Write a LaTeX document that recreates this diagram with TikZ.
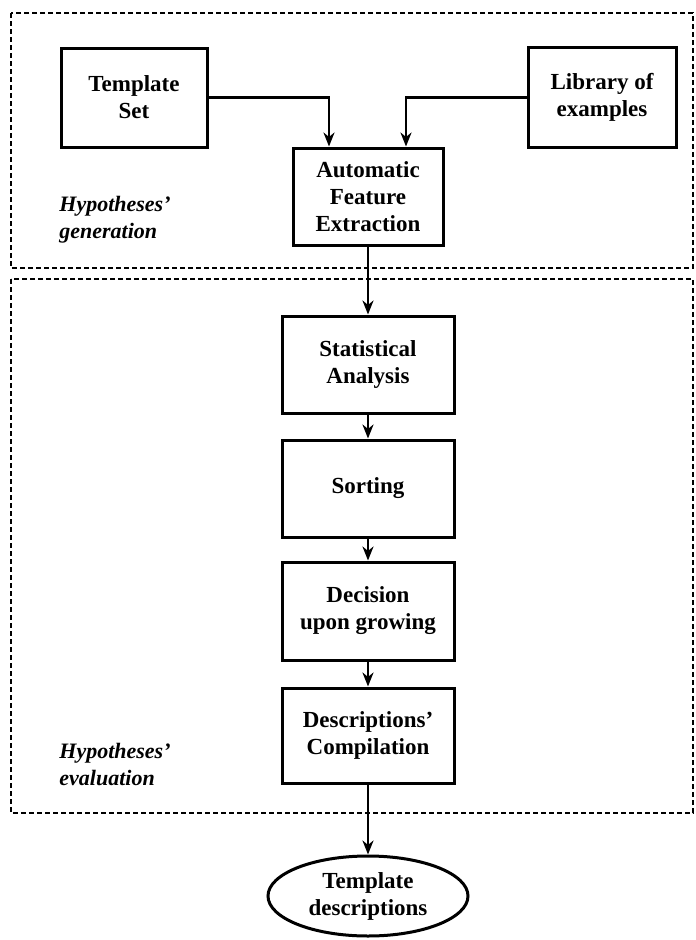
\documentclass[tikz,border=0pt]{standalone}
\usepackage{fontspec}
\setmainfont{Liberation Serif}
\usetikzlibrary{arrows.meta,shapes.geometric}
\begin{document}
\begin{tikzpicture}[x=1pt,y=-1pt,
  box/.style={draw,line width=3pt,inner sep=0pt,align=center,font=\fontsize{23}{27}\selectfont\bfseries},
  region/.style={draw,line width=2.2pt,dash pattern=on 5pt off 3pt},
  lbl/.style={align=left,font=\fontsize{22}{27}\selectfont\bfseries\itshape},
  conn/.style={line width=2.4pt,-{Stealth[length=14pt,width=11pt,inset=4.5pt]}}]
\useasboundingbox (0,0) rectangle (696,940);
\draw[region] (11,13) rectangle (693,268);
\draw[region] (11,279) rectangle (693,813);
\node[box,minimum width=146pt,minimum height=99pt] (tpl) at (134,97.5) {Template\\Set};
\node[box,minimum width=148pt,minimum height=100pt] (lib) at (602,97.5) {Library of\\examples};
\node[box,minimum width=150pt,minimum height=97pt] (afe) at (368,196.5) {Automatic\\Feature\\Extraction};
\node[box,minimum width=172pt,minimum height=97pt] (stat) at (368,364.5) {Statistical\\Analysis};
\node[box,minimum width=172pt,minimum height=97pt] (sort) at (368,488.5) {Sorting};
\node[box,minimum width=172pt,minimum height=98pt] (dec) at (368,611) {Decision\\upon growing};
\node[box,minimum width=172pt,minimum height=95pt] (desc) at (368,735.5) {Descriptions'\\Compilation};
\node[box,ellipse,minimum width=200pt,minimum height=80pt] (out) at (368,896) {Template\\descriptions};
\node[lbl] (gen) at (115,220) {Hypotheses'\\generation};
\node[lbl] (eval) at (115,764) {Hypotheses'\\evaluation};
\coordinate (inL) at ([xshift=-39pt]afe.north);
\coordinate (inR) at ([xshift=38pt]afe.north);
\draw[conn] (tpl.east) -| (inL);
\draw[conn] (lib.west) -| (inR);
\draw[conn] (afe) -- (stat);
\draw[conn] (stat) -- (sort);
\draw[conn] (sort) -- (dec);
\draw[conn] (dec) -- (desc);
\draw[conn] (desc) -- (out);
\end{tikzpicture}
\end{document}
